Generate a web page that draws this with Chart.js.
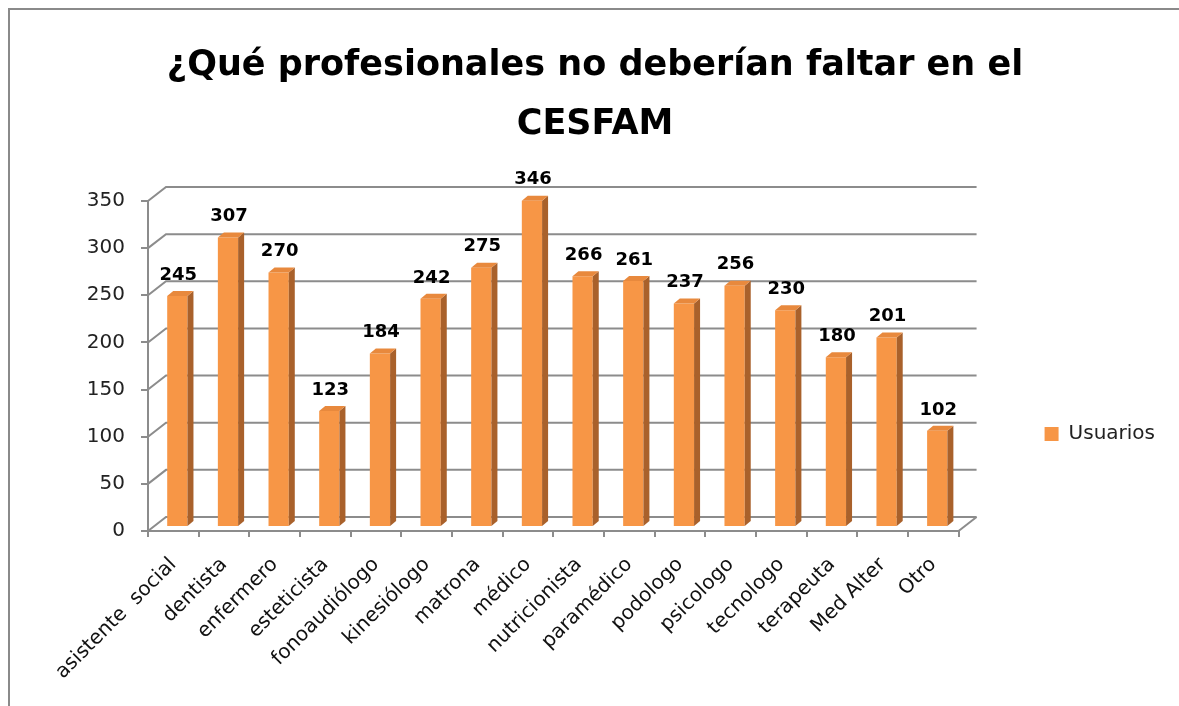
<!DOCTYPE html>
<html><head><meta charset="utf-8">
<script src="https://cdn.jsdelivr.net/npm/chart.js@4.4.0/dist/chart.umd.min.js"></script>
<style>html,body{margin:0;padding:0;background:#fff;overflow:hidden;}#wrap{width:1179px;height:706px;}</style>
</head><body><div id="wrap"><canvas id="c" width="1179" height="706"></canvas></div>
<script>
const titleLines = ["¿Qué profesionales no deberían faltar en el", "CESFAM"];
const categories = ["asistente  social","dentista","enfermero","esteticista","fonoaudiólogo","kinesiólogo","matrona","médico","nutricionista","paramédico","podologo","psicologo","tecnologo","terapeuta","Med Alter","Otro"];
const seriesName = "Usuarios";
const usuarios = [245,307,270,123,184,242,275,346,266,261,237,256,230,180,201,102];
const yMin = 0, yMax = 350, yStep = 50;

const FONT = "'DejaVu Sans', Verdana, sans-serif";
const GRID = '#8c8c8c';
const DX = 18, DY = 14;       // depth offset of back wall
const BX = 4, BY = -4;        // bars sit mid-depth
const SIDE = 6, TOP = 5;      // bar 3D depth

const frame = {
  id: 'frame',
  beforeDraw(chart) {
    const ctx = chart.ctx;
    ctx.save();
    ctx.fillStyle = '#fff';
    ctx.fillRect(0, 0, chart.width, chart.height);
    ctx.strokeStyle = '#8a8a8a';
    ctx.lineWidth = 2;
    ctx.beginPath();
    ctx.moveTo(9, chart.height);
    ctx.lineTo(9, 9);
    ctx.lineTo(chart.width, 9);
    ctx.stroke();
    ctx.restore();
  },
  afterDraw(chart) {
    const ctx = chart.ctx;
    ctx.save();
    ctx.fillStyle = '#fff';
    ctx.fillRect(chart.width - 6, 11, 6, chart.height - 11);
    ctx.restore();
  }
};

const walls = {
  id: 'walls',
  beforeDatasetsDraw(chart) {
    const ctx = chart.ctx, y = chart.scales.y, a = chart.chartArea;
    ctx.save();
    ctx.strokeStyle = GRID;
    ctx.lineWidth = 2;
    y.ticks.forEach(t => {
      const py = y.getPixelForValue(t.value);
      ctx.beginPath();
      ctx.moveTo(a.left, py);
      ctx.lineTo(a.left + DX, py - DY);
      ctx.lineTo(a.right + DX, py - DY);
      ctx.stroke();
    });
    const p0 = y.getPixelForValue(yMin);
    ctx.beginPath();
    ctx.moveTo(a.right, p0);
    ctx.lineTo(a.right + DX, p0 - DY);
    ctx.stroke();
    ctx.restore();
    ctx.save();
    ctx.translate(BX, BY);
  },
  afterDatasetsDraw(chart) {
    const ctx = chart.ctx;
    const meta = chart.getDatasetMeta(0);
    meta.data.forEach((bar) => {
      const w = bar.width, l = bar.x - w / 2, r = bar.x + w / 2, t = bar.y, b = bar.base;
      ctx.fillStyle = '#a9612b';
      ctx.beginPath();
      ctx.moveTo(r, b); ctx.lineTo(r + SIDE, b - TOP); ctx.lineTo(r + SIDE, t - TOP); ctx.lineTo(r, t); ctx.closePath();
      ctx.fill();
      ctx.fillStyle = '#e8893d';
      ctx.beginPath();
      ctx.moveTo(l, t); ctx.lineTo(l + SIDE, t - TOP); ctx.lineTo(r + SIDE, t - TOP); ctx.lineTo(r, t); ctx.closePath();
      ctx.fill();
    });
    ctx.restore();
    ctx.save();
    ctx.fillStyle = '#000';
    ctx.font = 'bold 18px ' + FONT;
    ctx.textAlign = 'center';
    ctx.textBaseline = 'middle';
    meta.data.forEach((bar, i) => {
      ctx.fillText(String(chart.data.datasets[0].data[i]), bar.x + BX + 1, bar.y + BY - 21);
    });
    ctx.restore();
  }
};

new Chart(document.getElementById('c'), {
  type: 'bar',
  data: {
    labels: categories,
    datasets: [{ label: seriesName, data: usuarios, backgroundColor: '#f79646', borderWidth: 0,
      categoryPercentage: 1.0, barPercentage: 0.4 }]
  },
  options: {
    responsive: false,
    animation: false,
    layout: { padding: { left: 25, right: 14, top: 0, bottom: 0 } },
    plugins: {
      tooltip: { enabled: false },
      title: {
        display: true, text: titleLines, color: '#000',
        font: { family: FONT, size: 35, weight: 'bold', lineHeight: 1.7 },
        padding: { top: 36, bottom: 46 }
      },
      legend: {
        position: 'right',
        title: { display: true, text: ' ', color: 'rgba(0,0,0,0)', font: { size: 20, lineHeight: 1.2 }, padding: { top: 138, bottom: 0 } },
        labels: { color: '#222', font: { family: FONT, size: 20 }, boxWidth: 14, boxHeight: 14, padding: 86 }
      }
    },
    scales: {
      x: {
        grid: { display: true, drawOnChartArea: false, offset: true, tickLength: 6, color: GRID, lineWidth: 2 },
        border: { display: true, color: GRID, width: 2 },
        ticks: { color: '#111', font: { family: FONT, size: 20 }, minRotation: 45, maxRotation: 45, autoSkip: false, padding: 16, labelOffset: 0 },
        afterFit(s) { s.height = 706 - 531; }
      },
      y: {
        min: yMin, max: yMax,
        grid: { display: true, drawOnChartArea: false, tickLength: 7, color: GRID, lineWidth: 2 },
        border: { display: true, color: GRID, width: 2 },
        ticks: { stepSize: yStep, color: '#222', font: { family: FONT, size: 20 }, padding: 16 },
        afterFit(s) { s.width = 148 - 25; }
      }
    }
  },
  plugins: [frame, walls]
});
</script></body></html>
